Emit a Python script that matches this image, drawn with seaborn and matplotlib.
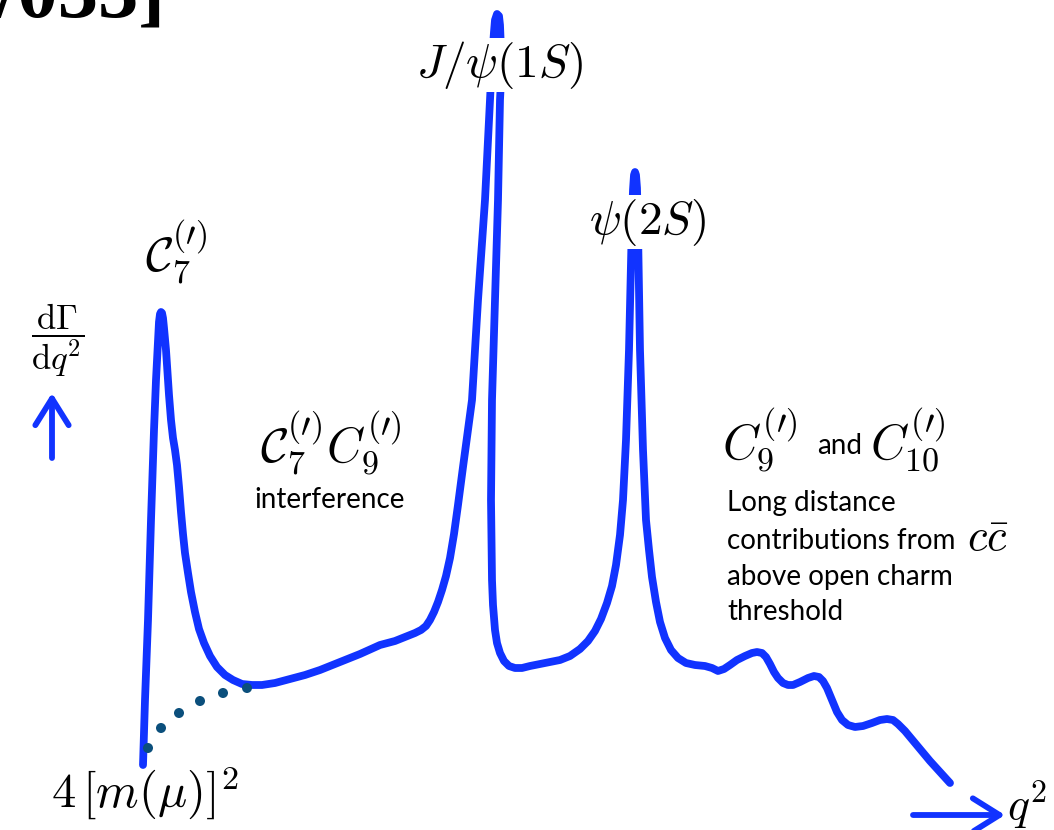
import numpy as np
import pandas as pd
import matplotlib
matplotlib.use("Agg")
import matplotlib.pyplot as plt
import seaborn as sns

# Sketch of the dilepton spectrum dGamma/dq^2 in b -> s l l (arbitrary units)
q2 = [143, 145, 148, 151, 154, 156, 157, 158, 159, 160, 161, 162, 163, 164, 166,
      169, 171, 173, 175, 177, 179, 181, 183, 185, 188, 191, 195, 199, 204, 210,
      217, 225, 233, 242, 252, 262, 275, 290, 305, 320, 340, 360, 380, 395, 405,
      415, 421, 426, 430, 434, 438, 442, 446, 450, 454, 458, 463, 472, 478, 485,
      490, 492, 494, 495, 497, 499, 500, 501, 501, 500, 498, 495, 492, 491, 492,
      493, 495, 497, 500, 504, 509, 515, 522, 530, 540, 550, 560, 570, 580, 588,
      595, 601, 607, 612, 616, 620, 623, 626, 629, 631, 632, 633, 634, 635, 636,
      637, 638, 640, 643, 646, 649, 652, 656, 660, 665, 671, 678, 686, 695, 705,
      712, 718, 724, 730, 737, 745, 752, 757, 762, 766, 770, 774, 778, 783, 788,
      793, 800, 808, 814, 819, 823, 827, 832, 837, 842, 848, 855, 863, 872, 880,
      887, 893, 898, 905, 915, 930, 950]
dgamma = [65, 130, 210, 310, 400, 450, 470, 492, 508, 516, 518, 517, 512, 502, 480,
          435, 410, 392, 380, 365, 343, 318, 296, 277, 257, 238, 218, 201, 187, 174,
          163, 155, 150, 146, 145, 145, 147, 151, 155, 160, 168, 176, 185, 189, 193,
          197, 200, 204, 210, 218, 228, 240, 254, 272, 296, 325, 363, 430, 530, 630,
          730, 770, 798, 810, 816, 814, 805, 780, 750, 730, 630, 530, 430, 330, 250,
          225, 200, 187, 177, 169, 164, 162, 162, 164, 166, 168, 170, 174, 181, 189,
          199, 211, 227, 244, 265, 295, 330, 390, 480, 570, 610, 640, 655, 658, 655,
          642, 600, 480, 380, 310, 280, 253, 228, 208, 192, 180, 172, 167, 165, 164,
          162, 159, 161, 165, 170, 174, 177, 178, 177, 173, 166, 158, 152, 147, 145,
          145, 148, 152, 154, 153, 149, 142, 130, 118, 110, 105, 103, 104, 107, 110,
          111, 110, 106, 99, 87, 69, 47]

# Short-distance continuation below the C7 photon pole
q2_cont = [148, 161, 179, 200, 223, 247]
dgamma_cont = [82, 102, 117, 129, 137, 142]

BLUE = "#1133ff"
TEAL = "#0b4f7c"

sns.set_theme(style="white")
plt.rcParams["mathtext.fontset"] = "cm"
plt.rcParams["font.family"] = ["Lato", "DejaVu Sans"]

fig = plt.figure(figsize=(10.54, 8.30), dpi=100)
ax = fig.add_axes([0, 0, 1, 1])
ax.set_xlim(0, 1054)
ax.set_ylim(0, 830)
ax.axis("off")

spectrum = pd.DataFrame({"q2": q2, "dgamma": dgamma})
sns.lineplot(data=spectrum, x="q2", y="dgamma", sort=False, estimator=None,
             color=BLUE, lw=5.6, ax=ax, zorder=2,
             solid_capstyle="round", solid_joinstyle="round")

cont = pd.DataFrame({"q2": q2_cont, "dgamma": dgamma_cont})
sns.scatterplot(data=cont, x="q2", y="dgamma", color=TEAL, s=52,
                edgecolor="none", ax=ax, zorder=3)
ax.set_xlabel("")
ax.set_ylabel("")

white = dict(facecolor="white", edgecolor="none", pad=1)
math_kw = dict(color="black", zorder=5, ha="center", va="center")

ax.text(500, 765, r"$J/\psi(1S)$", fontsize=34, bbox=white, **math_kw)
ax.text(648, 608, r"$\psi(2S)$", fontsize=34, bbox=white, **math_kw)
ax.text(176, 578, r"$\mathcal{C}_7^{(\prime)}$", fontsize=35, **math_kw)
ax.text(331, 387, r"$\mathcal{C}_7^{(\prime)}C_9^{(\prime)}$", fontsize=35, **math_kw)
ax.text(330, 330, "interference", fontsize=20, **math_kw)

ax.text(760, 390, r"$C_9^{(\prime)}$", fontsize=35, **math_kw)
ax.text(840, 384, "and", fontsize=20, **math_kw)
ax.text(908, 390, r"$C_{\mathsf{10}}^{(\prime)}$", fontsize=35, **math_kw)

for ypos, line in zip([327, 289, 253, 218],
                      ["Long distance", "contributions from",
                       "above open charm", "threshold"]):
    ax.text(727, ypos, line, fontsize=20, color="black", ha="left",
            va="center", zorder=5)
ax.text(988, 292, r"$c\bar{c}$", fontsize=32, **math_kw)

ax.text(58, 490, r"$\dfrac{\mathrm{d}\Gamma}{\mathrm{d}q^2}$", fontsize=25, **math_kw)
ax.text(145, 37, r"$4\,[m(\mu)]^2$", fontsize=35, **math_kw)
ax.text(1007, 25, r"$q^2$", fontsize=33, color="black", ha="left",
        va="center", zorder=5)

arrow = dict(arrowstyle="->,head_length=1.6,head_width=1.0", color=BLUE,
             lw=4.2, shrinkA=0, shrinkB=0)
ax.annotate("", xy=(52, 437), xytext=(52, 372), arrowprops=arrow)
ax.annotate("", xy=(1005, 15), xytext=(913, 15), arrowprops=arrow)

ax.text(-4, 813, "/033]", fontsize=58, fontweight="bold",
        family=["Liberation Serif"], color="black", ha="left", va="baseline")

fig.savefig("out.png", dpi=100, facecolor="white")
